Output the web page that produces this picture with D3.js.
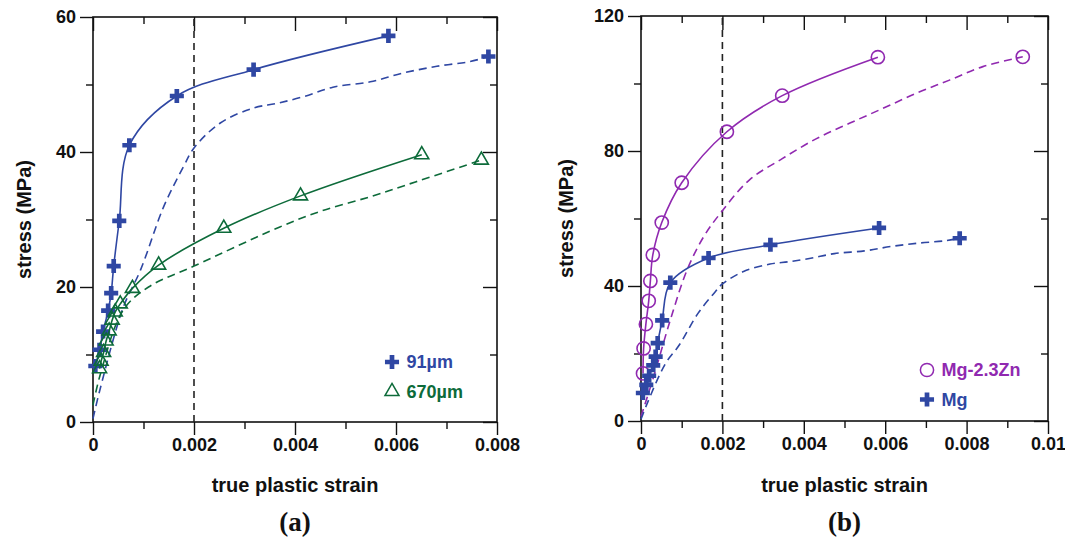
<!DOCTYPE html>
<html><head><meta charset="utf-8">
<script src="https://cdn.jsdelivr.net/npm/d3@7"></script>
<style>body{margin:0;background:#fff}svg{display:block}</style></head>
<body><svg id="c" width="1065" height="541"></svg>
<script>
// ---------- data ----------
// fine-grained Mg (91 µm) : solid curve with markers
const fineStrain = [0.000046,0.00013,0.0002,0.0003,0.00036,0.00041,0.00052,0.00072,0.00166,0.00318,0.00585];
const fineStress = [8.3,10.7,13.4,16.5,19.1,23.1,29.8,41.0,48.3,52.2,57.2];
// fine-grained Mg : dashed curve (marker at last point)
const fineDashStrain = [0,0.000145,0.0006,0.00094,0.0014,0.00179,0.002,0.00252,0.00317,0.00364,0.00417,0.00475,0.00549,0.00614,0.00681,0.00747,0.00783];
const fineDashStress = [0.5,5,17,22.5,31.9,37.8,40.6,44.3,46.5,47.2,48.2,49.6,50.4,51.7,52.7,53.4,54.15];
// coarse-grained Mg (670 µm) : solid with markers
const coarseStrain = [0.00013,0.00016,0.00021,0.00026,0.00032,0.00038,0.00044,0.00054,0.00078,0.0013,0.00259,0.00411,0.00651];
const coarseStress = [7.9,9.0,10.3,12.0,13.5,15.1,16.3,17.5,19.8,23.25,28.7,33.5,39.6];
// coarse-grained Mg : dashed
const coarseDashStrain = [0,0.00015,0.0006,0.0011,0.002,0.0037,0.0045,0.0055,0.0064,0.00769];
const coarseDashStress = [2.5,7.2,16.6,20,23.1,28.9,31.2,33.4,35.6,38.8];
// Mg-2.3Zn : solid with markers
const znStrain = [0.00005,0.000064,0.00012,0.00019,0.00023,0.00029,0.00051,0.001,0.00211,0.00347,0.00582];
const znStress = [14.1,21.5,28.7,35.6,41.5,49.2,58.8,70.6,85.7,96.4,107.8];
// Mg-2.3Zn : dashed
const znDashStrain = [0,0.00031,0.00072,0.00113,0.00154,0.00198,0.00266,0.00348,0.0043,0.00512,0.00594,0.00676,0.00758,0.0084,0.00938];
const znDashStress = [1.3,13.1,29.9,44.7,54.6,62,71.4,77.8,83.6,88.2,92.6,97.1,101,105,107.9];

// axes
const xTicksA = [0,0.002,0.004,0.006,0.008];
const xLabelsA = ["0","0.002","0.004","0.006","0.008"];
const xTicksB = [0,0.002,0.004,0.006,0.008,0.01];
const xLabelsB = ["0","0.002","0.004","0.006","0.008","0.01"];
const yTicksA = [0,20,40,60];
const yMinorA = [10,30,50];
const yTicksB = [0,40,80,120];
const yMinorB = [20,60,100];
const xMinorA = [0.001,0.003,0.005,0.007];
const xMinorB = [0.001,0.003,0.005,0.007,0.009];

const legendA = ["91\u00b5m","670\u00b5m"];
const legendB = ["Mg-2.3Zn","Mg"];

const BLUE = "#2f47a3", GREEN = "#0d6b3a", PURPLE = "#9029b0";

// ---------- drawing ----------
const svg = d3.select("#c");
const FONT = "'Liberation Sans', Arial, Helvetica, sans-serif";

function zip(xs, ys){ return xs.map((v,i)=>[v, ys[i]]); }

function panel(o){
  const g = svg.append("g");
  const x = d3.scaleLinear().domain(o.xDomain).range(o.xRange);
  const y = d3.scaleLinear().domain(o.yDomain).range(o.yRange);
  const [x0,x1] = o.xRange, [y0,y1] = o.yRange;

  const styleAxis = sel => {
    sel.select(".domain").remove();
    sel.selectAll("line").attr("stroke","#111").attr("stroke-width",1.4);
    sel.selectAll("text").attr("font-family",FONT).attr("font-weight","bold")
      .attr("font-size",18).attr("fill","#111");
  };
  // bottom
  g.append("g").attr("transform",`translate(0,${y0})`)
    .call(d3.axisBottom(x).tickValues(o.xTicks).tickSize(13).tickPadding(3)
      .tickFormat((d,i)=>o.xLabels[i])).call(styleAxis);
  g.append("g").attr("transform",`translate(0,${y0})`)
    .call(d3.axisBottom(x).tickValues(o.xMinor).tickSize(7).tickFormat("")).call(styleAxis);
  // top
  g.append("g").attr("transform",`translate(0,${y1})`)
    .call(d3.axisTop(x).tickValues(o.xTicks).tickSize(-14).tickFormat("")).call(styleAxis);
  g.append("g").attr("transform",`translate(0,${y1})`)
    .call(d3.axisTop(x).tickValues(o.xMinor).tickSize(-7).tickFormat("")).call(styleAxis);
  // left
  g.append("g").attr("transform",`translate(${x0},0)`)
    .call(d3.axisLeft(y).tickValues(o.yTicks).tickSize(13).tickPadding(4)).call(styleAxis);
  g.append("g").attr("transform",`translate(${x0},0)`)
    .call(d3.axisLeft(y).tickValues(o.yMinor).tickSize(7).tickFormat("")).call(styleAxis);
  // right
  g.append("g").attr("transform",`translate(${x1},0)`)
    .call(d3.axisRight(y).tickValues(o.yTicks).tickSize(-14).tickFormat("")).call(styleAxis);
  g.append("g").attr("transform",`translate(${x1},0)`)
    .call(d3.axisRight(y).tickValues(o.yMinor).tickSize(-7).tickFormat("")).call(styleAxis);

  // frame
  g.append("rect").attr("x",x0).attr("y",y1).attr("width",x1-x0).attr("height",y0-y1)
    .attr("fill","none").attr("stroke","#111").attr("stroke-width",1.6);

  // 0.2% vertical dashed line
  g.append("line").attr("x1",x(0.002)).attr("x2",x(0.002)).attr("y1",y0).attr("y2",y1)
    .attr("stroke","#222").attr("stroke-width",1.6).attr("stroke-dasharray","7,5");

  const line = d3.line().x(d=>x(d[0])).y(d=>y(d[1])).curve(d3.curveCatmullRom.alpha(0.5));

  o.series.forEach(s=>{
    const pts = zip(s.xs, s.ys);
    g.append("path").datum(pts).attr("d",line).attr("fill","none")
      .attr("stroke",s.color).attr("stroke-width",1.6)
      .attr("stroke-dasharray", s.dashed ? "8,5" : null);
    const mk = s.dashed ? [pts[pts.length-1]] : pts;
    g.selectAll(null).data(mk).enter().append("path")
      .attr("transform",d=>`translate(${x(d[0])},${y(d[1])})`)
      .attr("d", d3.symbol().type(s.symbol).size(s.size))
      .attr("fill", s.filled ? s.color : "none")
      .attr("stroke", s.color).attr("stroke-width", s.filled ? 0 : 1.6);
  });

  // legend
  o.legend.forEach((L,i)=>{
    const ly = o.legendY + i*29.5;
    g.append("path").attr("transform",`translate(${o.legendX},${ly})`)
      .attr("d", d3.symbol().type(L.symbol).size(L.size))
      .attr("fill", L.filled ? L.color : "none").attr("stroke",L.color)
      .attr("stroke-width", L.filled?0:1.5);
    g.append("text").attr("x",o.legendX+14.5).attr("y",ly).attr("dy","0.36em")
      .attr("font-family",FONT).attr("font-weight","bold").attr("font-size",18)
      .attr("fill",L.color).text(L.label);
  });

  // titles
  g.append("text").attr("x",(x0+x1)/2).attr("y",492).attr("text-anchor","middle")
    .attr("font-family",FONT).attr("font-weight","bold").attr("font-size",20)
    .attr("fill","#111").text("true plastic strain");
  g.append("text").attr("transform",`translate(${o.yTitleX},${(y0+y1)/2}) rotate(-90)`)
    .attr("text-anchor","middle").attr("font-family",FONT).attr("font-weight","bold")
    .attr("font-size",20).attr("fill","#111").text("stress (MPa)");
  g.append("text").attr("x",(x0+x1)/2).attr("y",531).attr("text-anchor","middle")
    .attr("font-family","'Liberation Serif','Times New Roman',serif").attr("font-weight","bold")
    .attr("font-size",27).attr("fill","#111").text(o.tag);
}

const sizePlus = 110, sizeTri = 85, sizeCirc = Math.PI*6.6*6.6;

panel({
  xDomain:[0,0.008], xRange:[93,497], yDomain:[0,60], yRange:[422,17],
  xTicks:xTicksA, xLabels:xLabelsA, xMinor:xMinorA, yTicks:yTicksA, yMinor:yMinorA,
  yTitleX:31, tag:"(a)", legendX:392, legendY:362,
  series:[
    {xs:fineDashStrain, ys:fineDashStress, color:BLUE, dashed:true, symbol:d3.symbolCross, size:sizePlus, filled:true},
    {xs:coarseDashStrain, ys:coarseDashStress, color:GREEN, dashed:true, symbol:d3.symbolTriangle, size:sizeTri, filled:false},
    {xs:fineStrain, ys:fineStress, color:BLUE, dashed:false, symbol:d3.symbolCross, size:sizePlus, filled:true},
    {xs:coarseStrain, ys:coarseStress, color:GREEN, dashed:false, symbol:d3.symbolTriangle, size:sizeTri, filled:false}
  ],
  legend:[
    {label:legendA[0], color:BLUE, symbol:d3.symbolCross, size:sizePlus, filled:true},
    {label:legendA[1], color:GREEN, symbol:d3.symbolTriangle, size:sizeTri, filled:false}
  ]
});

panel({
  xDomain:[0,0.01], xRange:[641,1048], yDomain:[0,120], yRange:[421,16],
  xTicks:xTicksB, xLabels:xLabelsB, xMinor:xMinorB, yTicks:yTicksB, yMinor:yMinorB,
  yTitleX:573, tag:"(b)", legendX:927, legendY:370,
  series:[
    {xs:znDashStrain, ys:znDashStress, color:PURPLE, dashed:true, symbol:d3.symbolCircle, size:sizeCirc, filled:false},
    {xs:fineDashStrain, ys:fineDashStress, color:BLUE, dashed:true, symbol:d3.symbolCross, size:sizePlus, filled:true},
    {xs:znStrain, ys:znStress, color:PURPLE, dashed:false, symbol:d3.symbolCircle, size:sizeCirc, filled:false},
    {xs:fineStrain, ys:fineStress, color:BLUE, dashed:false, symbol:d3.symbolCross, size:sizePlus, filled:true}
  ],
  legend:[
    {label:legendB[0], color:PURPLE, symbol:d3.symbolCircle, size:sizeCirc, filled:false},
    {label:legendB[1], color:BLUE, symbol:d3.symbolCross, size:sizePlus, filled:true}
  ]
});
</script></body></html>
